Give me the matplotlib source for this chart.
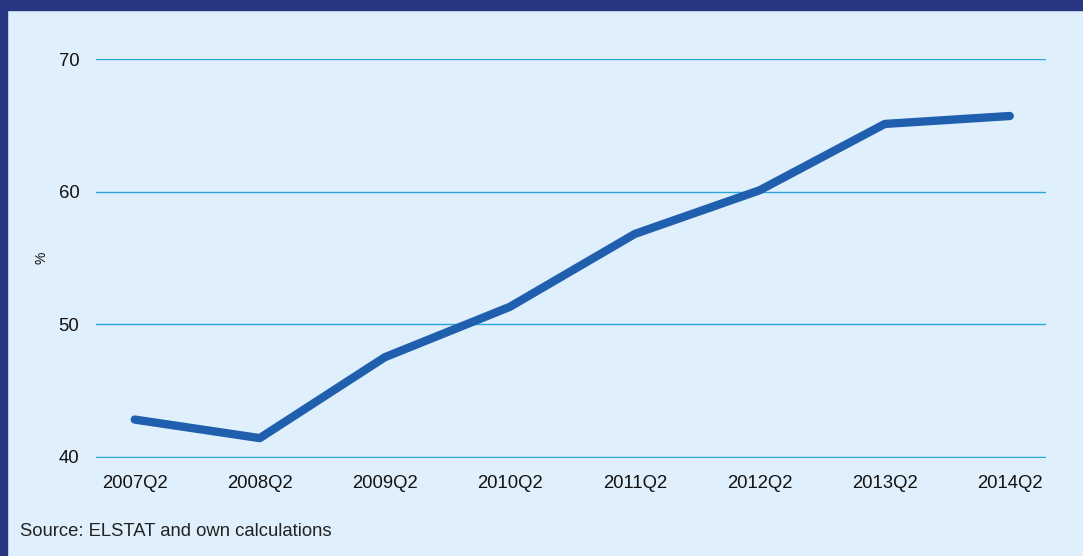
import matplotlib
matplotlib.use("Agg")
import matplotlib.pyplot as plt
from matplotlib.patches import Rectangle

plt.rcParams['font.family'] = ['Liberation Sans', 'DejaVu Sans']

quarters = ['2007Q2', '2008Q2', '2009Q2', '2010Q2', '2011Q2', '2012Q2', '2013Q2', '2014Q2']
values = [42.8, 41.4, 47.5, 51.3, 56.8, 60.1, 65.1, 65.7]
yticks = [40, 50, 60, 70]

bg = '#DFF0FC'
navy = '#283583'
grid_c = '#2AA6DF'
line_c = '#1F5FAD'

fig = plt.figure(figsize=(10.83, 5.56), dpi=100, facecolor=bg)
ax = fig.add_axes([96 / 1083, 1 - 458 / 556, (1046 - 96) / 1083, (458 - 59) / 556])
ax.set_facecolor(bg)

x = list(range(len(quarters)))
ax.plot(x, values, color=line_c, lw=6, solid_joinstyle='round', solid_capstyle='round', zorder=3)

ax.set_ylim(39.9, 70)
ax.set_xlim(-0.31, 7.29)
ax.set_yticks(yticks)
ax.set_xticks(x)
ax.set_xticklabels(quarters)
ax.yaxis.grid(True, color=grid_c, lw=1.0)
ax.set_axisbelow(True)
for s in ax.spines.values():
    s.set_visible(False)
ax.tick_params(length=0, labelsize=13.3, colors='#111111')
ax.tick_params(axis='y', pad=12)
ax.tick_params(axis='x', pad=12)

# y label placed by hand, left of tick labels
fig.text(42 / 1083, 1 - 258 / 556, '%', fontsize=10, rotation=90, color='#111111',
         va='center', ha='center')

fig.text(20 / 1083, 1 - 532 / 556, 'Source: ELSTAT and own calculations', fontsize=13.3,
         color='#222222', va='center', ha='left')

# frame bands
fig.patches.append(Rectangle((0, 1 - 10 / 556), 1, 10 / 556, transform=fig.transFigure,
                             color=navy, zorder=10))
fig.patches.append(Rectangle((0, 0), 7 / 1083, 1, transform=fig.transFigure,
                             color=navy, zorder=10))

fig.savefig('out.png', dpi=100, facecolor=bg)
